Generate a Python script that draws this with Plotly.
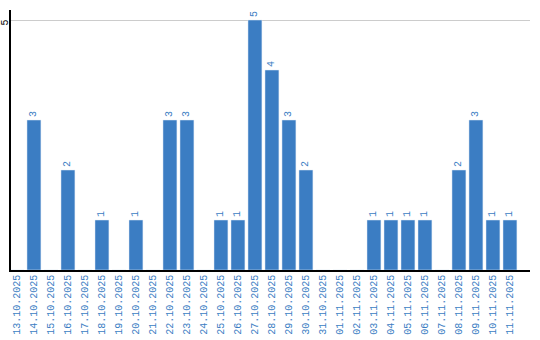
import plotly.graph_objects as go

dates = ["13.10.2025","14.10.2025","15.10.2025","16.10.2025","17.10.2025","18.10.2025",
         "19.10.2025","20.10.2025","21.10.2025","22.10.2025","23.10.2025","24.10.2025",
         "25.10.2025","26.10.2025","27.10.2025","28.10.2025","29.10.2025","30.10.2025",
         "31.10.2025","01.11.2025","02.11.2025","03.11.2025","04.11.2025","05.11.2025",
         "06.11.2025","07.11.2025","08.11.2025","09.11.2025","10.11.2025","11.11.2025"]
counts = [0,3,0,2,0,1,0,1,0,3,3,0,1,1,5,4,3,2,0,0,0,1,1,1,1,0,2,3,1,1]

blue = "#3b7dc3"
font_family = "Liberation Mono"
labels = [str(v) if v > 0 else "" for v in counts]

fig = go.Figure(go.Bar(
    x=dates, y=counts, marker_color=blue, text=labels,
    textposition="outside", textangle=-90, cliponaxis=False,
    textfont=dict(family=font_family, size=10, color=blue),
))
fig.update_layout(
    width=540, height=340, margin=dict(l=11, r=10, t=10, b=70, autoexpand=False),
    plot_bgcolor="white", paper_bgcolor="white", showlegend=False,
    bargap=0.18,
    xaxis=dict(type="category", range=[-0.35, 30.18], tickangle=-90, automargin=False,
               tickfont=dict(family=font_family, size=10, color=blue),
               showline=True, linecolor="black", linewidth=1.5, showgrid=False,
               ticks="", ticklen=0, ticklabelstandoff=-1),
    yaxis=dict(range=[0, 5.2], tickvals=[5], ticktext=["5"], tickangle=-90, automargin=False,
               tickfont=dict(family=font_family, size=10, color="black"),
               showline=True, linecolor="black", linewidth=1.5,
               showgrid=True, gridcolor="#cccccc", zeroline=False, ticks="", ticklen=0,
               ticklabelstandoff=-3, ticklabelshift=4),
)
fig.write_html("out.html")
